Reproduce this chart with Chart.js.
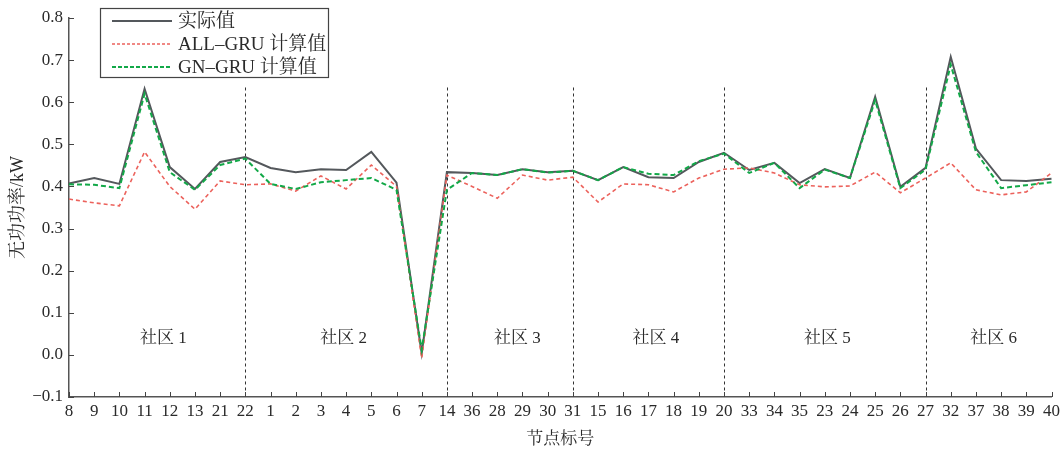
<!DOCTYPE html>
<html>
<head>
<meta charset="utf-8">
<script src="https://cdn.jsdelivr.net/npm/chart.js@4"></script>
<style>
  html, body { margin: 0; padding: 0; background: #fff; }
  #wrap { width: 1064px; height: 457px; }
</style>
</head>
<body>
<div id="wrap"><canvas id="myLineChart"></canvas></div>
<script>
// node ids along the x axis
var categories = ['8','9','10','11','12','13','21','22','1','2','3','4','5','6','7','14','36','28','29','30','31',
  '15','16','17','18','19','20','33','34','35','23','24','25','26','27','32','37','38','39','40'];

var actualValues = [0.407,0.420,0.406,0.632,0.446,0.394,0.458,0.470,0.444,0.434,0.441,0.439,0.482,0.409,0.004,
  0.434,0.432,0.427,0.441,0.434,0.437,0.415,0.446,0.422,0.420,0.458,0.480,0.439,0.456,0.408,0.441,0.420,0.613,
  0.399,0.444,0.708,0.490,0.415,0.413,0.418];

var allGruValues = [0.370,0.361,0.354,0.482,0.400,0.346,0.413,0.404,0.406,0.389,0.425,0.394,0.451,0.400,-0.008,
  0.427,0.400,0.372,0.427,0.415,0.422,0.363,0.406,0.404,0.387,0.420,0.441,0.444,0.432,0.404,0.399,0.401,0.434,
  0.385,0.420,0.456,0.392,0.380,0.387,0.432];

var gnGruValues = [0.405,0.404,0.396,0.620,0.434,0.392,0.451,0.466,0.406,0.394,0.410,0.415,0.420,0.392,0.012,
  0.392,0.432,0.427,0.441,0.433,0.437,0.415,0.446,0.430,0.427,0.460,0.478,0.432,0.456,0.396,0.440,0.420,0.605,
  0.396,0.440,0.689,0.482,0.396,0.403,0.410];

var seriesNames = ['实际值', 'ALL–GRU 计算值', 'GN–GRU 计算值'];

// community borders (dashed vertical lines) and community labels
var separatorNodes = ['22', '14', '31', '20', '27'];
var separatorTop = 0.635;
var communityNames = ['社区 1', '社区 2', '社区 3', '社区 4', '社区 5', '社区 6'];
var communityAt = [3.75, 10.9, 17.8, 23.3, 30.1, 36.7];
var communityLabelY = 0.038;

var yTicks = [-0.1, 0, 0.1, 0.2, 0.3, 0.4, 0.5, 0.6, 0.7, 0.8];

var FONT = "'Liberation Serif', 'Noto Serif CJK SC', 'Noto Sans CJK SC', serif";
var GRAY = 'rgb(84, 88, 92)';
var RED = 'rgb(236, 98, 92)';
var GREEN = 'rgb(18, 168, 72)';
var TEXT = '#2a2a2a';

var decor = {
    id: 'decor',
    beforeDatasetsDraw: function(chart) {
        var ctx = chart.ctx, x = chart.scales.x, y = chart.scales.y;
        ctx.save();
        // separators
        ctx.strokeStyle = '#333';
        ctx.lineWidth = 1;
        ctx.setLineDash([3, 3]);
        separatorNodes.forEach(function(n) {
            var px = Math.round(x.getPixelForValue(categories.indexOf(n))) + 0.5;
            ctx.beginPath();
            ctx.moveTo(px, y.getPixelForValue(separatorTop));
            ctx.lineTo(px, y.bottom);
            ctx.stroke();
        });
        ctx.setLineDash([]);
        // community labels
        ctx.fillStyle = TEXT;
        ctx.font = '17px ' + FONT;
        ctx.textAlign = 'center';
        ctx.textBaseline = 'middle';
        communityNames.forEach(function(name, i) {
            ctx.fillText(name, x.getPixelForValue(communityAt[i]), y.getPixelForValue(communityLabelY));
        });
        ctx.restore();
    },
    afterDraw: function(chart) {
        var ctx = chart.ctx, x = chart.scales.x, y = chart.scales.y, area = chart.chartArea;
        ctx.save();
        // inward tick marks
        ctx.strokeStyle = '#444';
        ctx.lineWidth = 1;
        yTicks.forEach(function(v) {
            var py = Math.round(y.getPixelForValue(v)) + 0.5;
            ctx.beginPath();
            ctx.moveTo(area.left, py);
            ctx.lineTo(area.left + 5, py);
            ctx.stroke();
        });
        categories.forEach(function(c, i) {
            var px = Math.round(x.getPixelForValue(i)) + 0.5;
            ctx.beginPath();
            ctx.moveTo(px, area.bottom);
            ctx.lineTo(px, area.bottom - 5);
            ctx.stroke();
        });
        // legend box
        var bx = area.left + 31, by = area.top - 10, bw = 228, bh = 69;
        ctx.fillStyle = '#fff';
        ctx.fillRect(bx, by, bw, bh);
        ctx.strokeStyle = '#444';
        ctx.lineWidth = 1.2;
        ctx.strokeRect(bx + 0.5, by + 0.5, bw, bh);
        var styles = [
            { color: GRAY, width: 2, dash: [] },
            { color: RED, width: 1.5, dash: [3, 2] },
            { color: GREEN, width: 2, dash: [4, 2] }
        ];
        ctx.font = '19px ' + FONT;
        ctx.textAlign = 'left';
        ctx.textBaseline = 'middle';
        seriesNames.forEach(function(name, i) {
            var ly = by + 13 + i * 23;
            ctx.strokeStyle = styles[i].color;
            ctx.lineWidth = styles[i].width;
            ctx.setLineDash(styles[i].dash);
            ctx.beginPath();
            ctx.moveTo(bx + 12, ly);
            ctx.lineTo(bx + 72, ly);
            ctx.stroke();
            ctx.setLineDash([]);
            ctx.fillStyle = TEXT;
            ctx.fillText(name, bx + 78, ly + 1);
        });
        ctx.restore();
    }
};

var ctx = document.getElementById('myLineChart');

new Chart(ctx, {
    type: 'line',
    data: {
        labels: categories,
        datasets: [{
            label: seriesNames[0],
            data: actualValues,
            borderColor: GRAY,
            backgroundColor: GRAY,
            borderWidth: 2,
            pointRadius: 0,
            fill: false,
            order: 3
        }, {
            label: seriesNames[1],
            data: allGruValues,
            borderColor: RED,
            backgroundColor: RED,
            borderWidth: 1.6,
            borderDash: [4, 3],
            pointRadius: 0,
            fill: false,
            order: 2
        }, {
            label: seriesNames[2],
            data: gnGruValues,
            borderColor: GREEN,
            backgroundColor: GREEN,
            borderWidth: 2,
            borderDash: [5, 3],
            pointRadius: 0,
            fill: false,
            order: 1
        }]
    },
    options: {
        responsive: true,
        maintainAspectRatio: false,
        animation: false,
        layout: { padding: { left: 4, right: 12, top: 18, bottom: 3 } },
        plugins: {
            legend: { display: false },
            tooltip: { enabled: false }
        },
        scales: {
            x: {
                offset: false,
                grid: { display: false, drawTicks: false },
                border: { display: true, color: '#555', width: 1.5 },
                ticks: {
                    autoSkip: false,
                    maxRotation: 0,
                    padding: 4,
                    color: TEXT,
                    font: { family: FONT, size: 17 }
                },
                title: {
                    display: true,
                    text: '节点标号',
                    color: TEXT,
                    font: { family: FONT, size: 17 },
                    padding: { top: 4, bottom: 4 }
                },
                afterFit: function(s) { s.height = 57; }
            },
            y: {
                min: -0.1,
                max: 0.8,
                grid: { display: false, drawTicks: false },
                border: { display: true, color: '#555', width: 1.5 },
                ticks: {
                    stepSize: 0.1,
                    padding: 6,
                    color: TEXT,
                    font: { family: FONT, size: 17 },
                    callback: function(v) { return v.toFixed(1).replace('-', '\u2212'); }
                },
                title: {
                    display: true,
                    text: '无功功率/kW',
                    color: TEXT,
                    font: { family: FONT, size: 18 },
                    padding: { top: 3, bottom: 4 }
                },
                afterFit: function(s) { s.width = 65; }
            }
        }
    },
    plugins: [decor]
});
</script>
</body>
</html>
